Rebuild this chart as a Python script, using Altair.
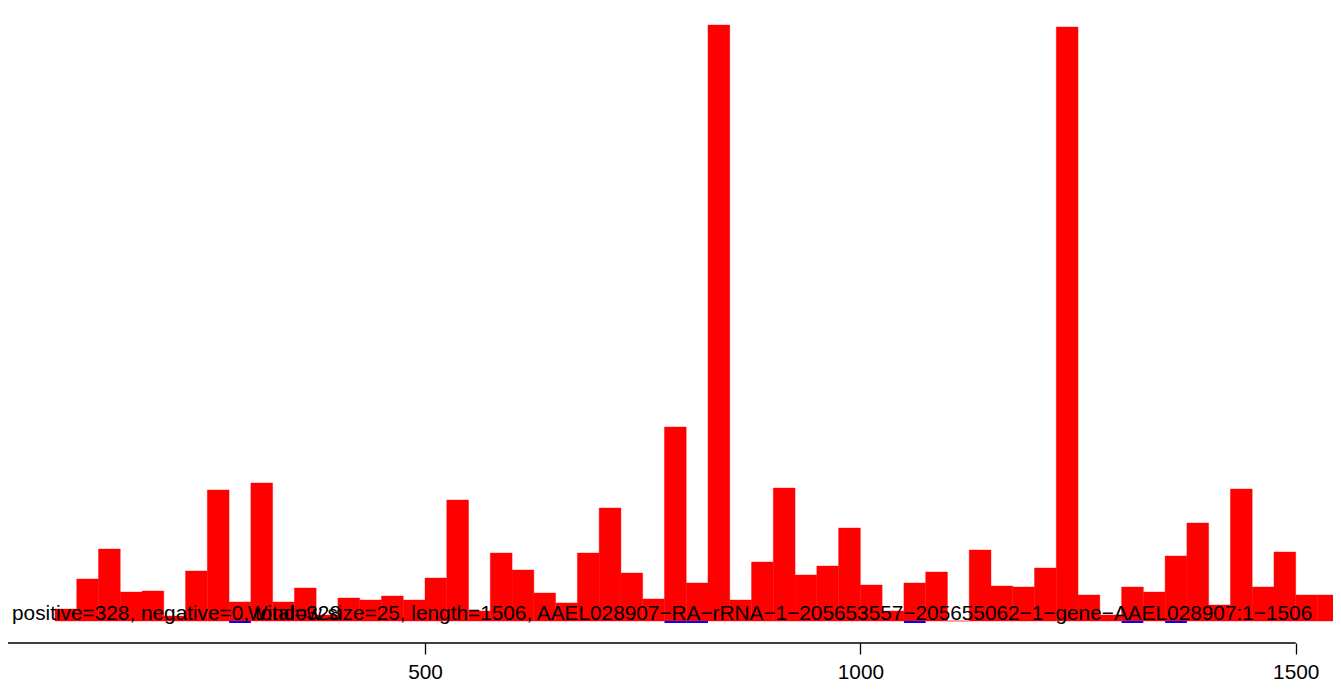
import altair as alt
import pandas as pd

# ---- data ----
window_size = 25
bin_start = [75, 100, 125, 150, 175, 200, 225, 250, 275, 300, 325, 350, 375,
             400, 425, 450, 475, 500, 525, 550, 575, 600, 625, 650, 675, 700,
             725, 750, 775, 800, 825, 850, 875, 900, 925, 950, 975, 1000, 1025,
             1050, 1075, 1100, 1125, 1150, 1175, 1200, 1225, 1250, 1275, 1300,
             1325, 1350, 1375, 1400, 1425, 1450, 1475, 1500, 1525]
pos_values = [12, 42, 72, 29, 30, 5, 50, 131, 19, 138, 19, 33, 6,
              23, 21, 25, 21, 43, 121, 10, 68, 51, 28, 18, 68, 113,
              48, 22, 194, 38, 596, 21, 59, 133, 46, 55, 93, 36, 10,
              38, 49, 0, 71, 35, 34, 53, 594, 26, 6, 34,
              29, 65, 98, 16, 132, 34, 69, 26, 26]
neg_start = [275, 775, 800, 1050, 1300, 1350]
neg_values = [-2, -2, -2, -2, -2, -2]
tick_values = [0, 500, 1000, 1500]
stats_label = "positive=328, negative=0, total=328"
info_label = ("Window size=25, length=1506, AAEL028907\u2212RA\u2212rRNA\u22121\u2212"
              "205653557\u2212205655062\u22121\u2212gene\u2212AAEL028907:1\u22121506")

pos_df = pd.DataFrame({"start": bin_start, "value": pos_values})
pos_df["end"] = pos_df["start"] + window_size
neg_df = pd.DataFrame({"start": neg_start, "value": neg_values})
neg_df["end"] = neg_df["start"] + window_size
axis_df = pd.DataFrame({"x": [min(tick_values)], "x2": [max(tick_values)]})
text_df = pd.DataFrame({"x": [25.7, 907.7], "label": [stats_label, info_label]})

FONT = "Liberation Sans"
FS = 20.8
xscale = alt.Scale(domain=[21.08, 1542.8], nice=False, zero=False)
yscale = alt.Scale(domain=[0, 613], nice=False, zero=False)

pos_bars = alt.Chart(pos_df).mark_bar(
    color="#ff0000", stroke="#ff0000", strokeWidth=0.4, clip=False
).encode(
    x=alt.X("start:Q", scale=xscale,
            axis=alt.Axis(values=tick_values[1:], domain=False, grid=False,
                          tickSize=11, tickColor="black", tickWidth=1.3,
                          labelFontSize=FS, labelFont=FONT, labelColor="black",
                          labelPadding=8, offset=22, title=None, format="d",
                          labelFlush=False)),
    x2="end:Q",
    y=alt.Y("value:Q", scale=yscale, axis=None),
    y2=alt.datum(0),
)
neg_bars = alt.Chart(neg_df).mark_bar(color="#0000ff", clip=False).encode(
    x=alt.X("start:Q", scale=xscale),
    x2="end:Q",
    y=alt.Y("value:Q", scale=yscale, axis=None),
    y2=alt.datum(0),
)
axis_line = alt.Chart(axis_df).mark_rule(color="black", strokeWidth=1.5, clip=False).encode(
    x=alt.X("x:Q", scale=xscale),
    x2="x2:Q",
    y=alt.value(635),
)
left_text = alt.Chart(text_df.iloc[[0]]).mark_text(
    align="left", baseline="alphabetic", fontSize=FS, font=FONT, color="black"
).encode(x=alt.X("x:Q", scale=xscale), y=alt.value(612), text="label:N")
center_text = alt.Chart(text_df.iloc[[1]]).mark_text(
    align="center", baseline="alphabetic", fontSize=FS, font=FONT, color="black"
).encode(x=alt.X("x:Q", scale=xscale), y=alt.value(612), text="label:N")

chart = alt.layer(pos_bars, neg_bars, axis_line, left_text, center_text).properties(
    width=1325, height=613,
    autosize=alt.AutoSizeParams(type="none"),
    padding={"left": 0, "top": 0, "right": 0, "bottom": 65},
).configure_view(stroke=None)

chart.save("out.html", embed_options={"renderer": "svg", "actions": False})
